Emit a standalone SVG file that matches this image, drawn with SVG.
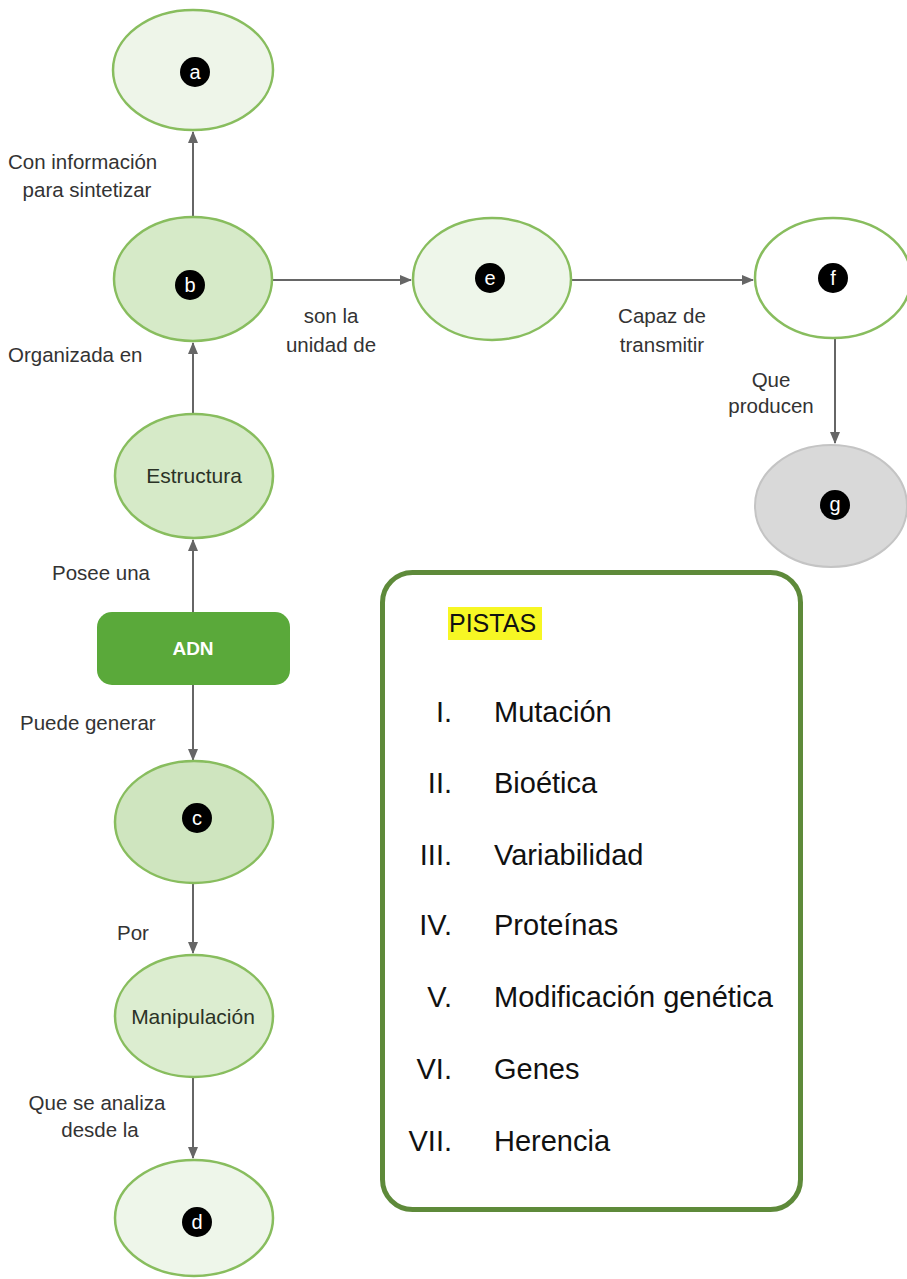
<svg xmlns="http://www.w3.org/2000/svg" width="907" height="1279" viewBox="0 0 907 1279">
<style>
.node{stroke:#88bd5e;stroke-width:2.5}
.conn{stroke:#666;stroke-width:2;fill:none;marker-end:url(#ah)}
.lbl{font-family:"Liberation Sans",Arial,sans-serif;font-size:20.5px;fill:#333}
.ntx{font-family:"Liberation Sans",Arial,sans-serif;font-size:21px;fill:#2b3326;text-anchor:middle}
.bdg{fill:#000}
.btx{font-family:"Liberation Sans",Arial,sans-serif;font-size:20px;fill:#fff;text-anchor:middle}
.pst{font-family:"Liberation Sans",Arial,sans-serif;font-size:29px;fill:#111}
.num{text-anchor:end}
</style>
<defs>
<marker id="ah" markerWidth="12" markerHeight="10" refX="11" refY="5" orient="auto" markerUnits="userSpaceOnUse">
<path d="M0,0 L12,5 L0,10 Z" fill="#666"/>
</marker>
</defs>
<rect width="907" height="1279" fill="#fff"/>

<g id="connectors">
<line class="conn" x1="193" y1="217" x2="193" y2="132"/>
<line class="conn" x1="193" y1="414" x2="193" y2="343"/>
<line class="conn" x1="193" y1="612" x2="193" y2="540"/>
<line class="conn" x1="193" y1="685" x2="193" y2="760"/>
<line class="conn" x1="193" y1="883" x2="193" y2="953"/>
<line class="conn" x1="193" y1="1077" x2="193" y2="1158"/>
<line class="conn" x1="272" y1="280" x2="411" y2="280"/>
<line class="conn" x1="571" y1="280" x2="753" y2="280"/>
<line class="conn" x1="835" y1="338" x2="835" y2="443"/>
<text class="lbl" x="8" y="169">Con información</text>
<text class="lbl" x="87" y="197" text-anchor="middle">para sintetizar</text>
<text class="lbl" x="8" y="362">Organizada  en</text>
<text class="lbl" x="52" y="580">Posee una</text>
<text class="lbl" x="20" y="730">Puede generar</text>
<text class="lbl" x="117" y="940">Por</text>
<text class="lbl" x="97" y="1110" text-anchor="middle">Que se analiza</text>
<text class="lbl" x="100" y="1137" text-anchor="middle">desde la</text>
<text class="lbl" x="331" y="323" text-anchor="middle">son la</text>
<text class="lbl" x="331" y="352" text-anchor="middle">unidad de</text>
<text class="lbl" x="662" y="323" text-anchor="middle">Capaz de</text>
<text class="lbl" x="662" y="352" text-anchor="middle">transmitir</text>
<text class="lbl" x="771" y="387" text-anchor="middle">Que</text>
<text class="lbl" x="771" y="413" text-anchor="middle">producen</text>
</g>

<g id="node-a">
<ellipse class="node" cx="193" cy="70" rx="80" ry="60" fill="#eef5e9"/>
<circle class="bdg" cx="195" cy="72" r="15"/>
<text class="btx" x="195" y="79">a</text>
</g>
<g id="node-b">
<ellipse class="node" cx="193" cy="279" rx="79" ry="62" fill="#d6eac8"/>
<circle class="bdg" cx="190" cy="285" r="15"/>
<text class="btx" x="190" y="292">b</text>
</g>
<g id="node-e">
<ellipse class="node" cx="492" cy="279" rx="79" ry="61" fill="#eef6ea"/>
<circle class="bdg" cx="490" cy="278" r="15"/>
<text class="btx" x="490" y="285">e</text>
</g>
<g id="node-f">
<ellipse class="node" cx="833" cy="278" rx="78" ry="60" fill="#ffffff"/>
<circle class="bdg" cx="833" cy="278" r="15"/>
<text class="btx" x="833" y="285">f</text>
</g>
<g id="node-g">
<ellipse cx="831" cy="506" rx="76" ry="61" fill="#d9d9d9" stroke="#c4c4c4" stroke-width="2"/>
<circle class="bdg" cx="835" cy="505" r="15"/>
<text class="btx" x="835" y="511">g</text>
</g>
<g id="node-estructura">
<ellipse class="node" cx="194" cy="476" rx="79" ry="62" fill="#d6eac8"/>
<text class="ntx" x="194" y="483">Estructura</text>
</g>
<g id="node-adn">
<rect x="97" y="612" width="193" height="73" rx="15" fill="#5aa93a"/>
<text x="193" y="655" font-family="'Liberation Sans',Arial,sans-serif" font-size="19" font-weight="bold" fill="#fff" text-anchor="middle">ADN</text>
</g>
<g id="node-c">
<ellipse class="node" cx="194" cy="822" rx="79" ry="61" fill="#cfe5bf"/>
<circle class="bdg" cx="197" cy="818" r="15"/>
<text class="btx" x="197" y="825">c</text>
</g>
<g id="node-manipulacion">
<ellipse class="node" cx="194" cy="1016" rx="79" ry="61" fill="#dcedd0"/>
<text class="ntx" x="193" y="1024">Manipulación</text>
</g>
<g id="node-d">
<ellipse class="node" cx="194" cy="1218" rx="79" ry="58" fill="#eef6ea"/>
<circle class="bdg" cx="197" cy="1222" r="15"/>
<text class="btx" x="197" y="1229">d</text>
</g>

<g id="pistas">
<rect x="382.5" y="572.5" width="418" height="637" rx="30" fill="#fff" stroke="#5e8a3a" stroke-width="5"/>
<rect x="448" y="607" width="94" height="33" fill="#f7f724"/>
<text x="449" y="632" font-family="'Liberation Sans',Arial,sans-serif" font-size="25" fill="#111">PISTAS</text>
<text class="pst num" x="452" y="722">I.</text><text class="pst" x="494" y="722">Mutación</text>
<text class="pst num" x="452" y="793">II.</text><text class="pst" x="494" y="793">Bioética</text>
<text class="pst num" x="452" y="865">III.</text><text class="pst" x="494" y="865">Variabilidad</text>
<text class="pst num" x="452" y="935">IV.</text><text class="pst" x="494" y="935">Proteínas</text>
<text class="pst num" x="452" y="1007">V.</text><text class="pst" x="494" y="1007">Modificación genética</text>
<text class="pst num" x="452" y="1079">VI.</text><text class="pst" x="494" y="1079">Genes</text>
<text class="pst num" x="452" y="1151">VII.</text><text class="pst" x="494" y="1151">Herencia</text>
</g>
</svg>
